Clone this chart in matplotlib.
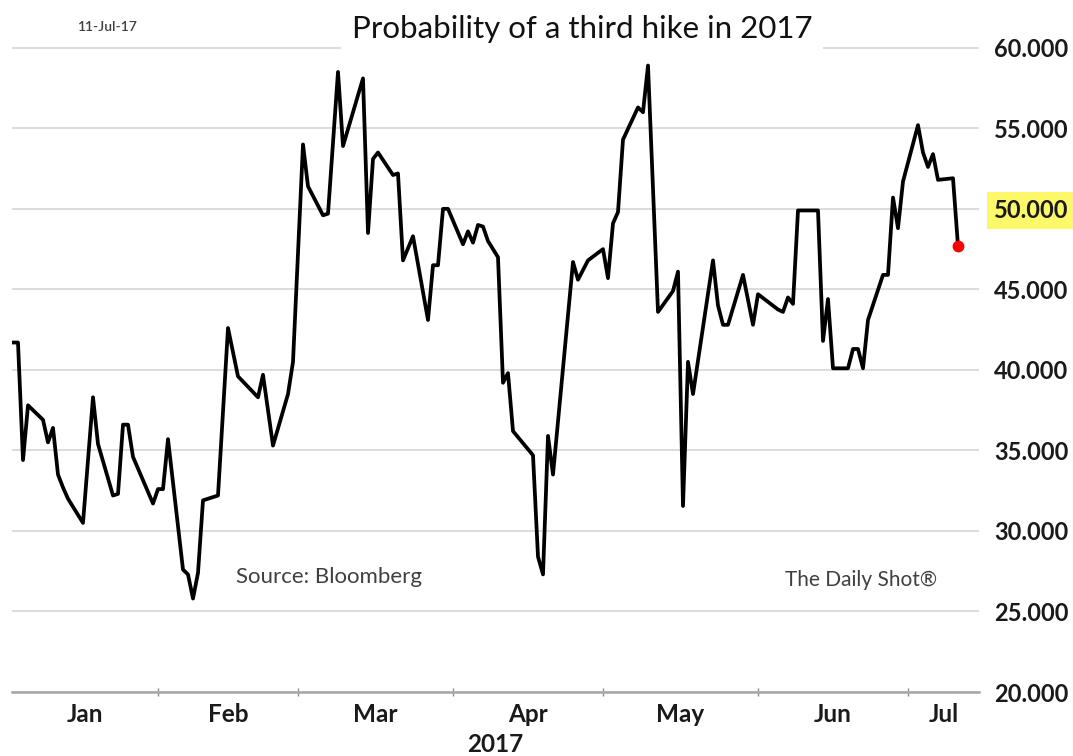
import matplotlib
matplotlib.use("Agg")
import matplotlib.pyplot as plt
import matplotlib.dates as mdates
from matplotlib.ticker import FixedLocator, NullFormatter

# probability of a third hike
dates = ["2017-01-03", "2017-01-04", "2017-01-05", "2017-01-06", "2017-01-09",
         "2017-01-10", "2017-01-11", "2017-01-12", "2017-01-13", "2017-01-14",
         "2017-01-17", "2017-01-19", "2017-01-20", "2017-01-23", "2017-01-24",
         "2017-01-25", "2017-01-26", "2017-01-27", "2017-01-31", "2017-02-01",
         "2017-02-02", "2017-02-03", "2017-02-06", "2017-02-07", "2017-02-08",
         "2017-02-09", "2017-02-10", "2017-02-13", "2017-02-15", "2017-02-17",
         "2017-02-21", "2017-02-22", "2017-02-24", "2017-02-27", "2017-02-28",
         "2017-03-02", "2017-03-03", "2017-03-06", "2017-03-07", "2017-03-09",
         "2017-03-10", "2017-03-14", "2017-03-15", "2017-03-16", "2017-03-17",
         "2017-03-20", "2017-03-21", "2017-03-22", "2017-03-24", "2017-03-27",
         "2017-03-28", "2017-03-29", "2017-03-30", "2017-03-31", "2017-04-03",
         "2017-04-04", "2017-04-05", "2017-04-06", "2017-04-07", "2017-04-08",
         "2017-04-10", "2017-04-11", "2017-04-12", "2017-04-13", "2017-04-17",
         "2017-04-18", "2017-04-19", "2017-04-20", "2017-04-21", "2017-04-25",
         "2017-04-26", "2017-04-28", "2017-05-01", "2017-05-02", "2017-05-03",
         "2017-05-04", "2017-05-05", "2017-05-08", "2017-05-09", "2017-05-10",
         "2017-05-12", "2017-05-15", "2017-05-16", "2017-05-17", "2017-05-18",
         "2017-05-19", "2017-05-23", "2017-05-24", "2017-05-25", "2017-05-26",
         "2017-05-29", "2017-05-31", "2017-06-01", "2017-06-05", "2017-06-06",
         "2017-06-07", "2017-06-08", "2017-06-09", "2017-06-13", "2017-06-14",
         "2017-06-15", "2017-06-16", "2017-06-19", "2017-06-20", "2017-06-21",
         "2017-06-22", "2017-06-23", "2017-06-26", "2017-06-27", "2017-06-28",
         "2017-06-29", "2017-06-30", "2017-07-03", "2017-07-04", "2017-07-05",
         "2017-07-06", "2017-07-07", "2017-07-10", "2017-07-11"]
prob = [41.7, 41.7, 34.4, 37.8, 36.9,
        35.5, 36.4, 33.5, 32.7, 32.0,
        30.5, 38.3, 35.4, 32.2, 32.3,
        36.6, 36.6, 34.6, 31.7, 32.6,
        32.6, 35.7, 27.6, 27.3, 25.8,
        27.4, 31.9, 32.2, 42.6, 39.6,
        38.3, 39.7, 35.3, 38.5, 40.5,
        54.0, 51.4, 49.6, 49.7, 58.5,
        53.9, 58.1, 48.5, 53.1, 53.5,
        52.1, 52.2, 46.8, 48.3, 43.1,
        46.5, 46.5, 50.0, 50.0, 47.8,
        48.6, 47.9, 49.0, 48.9, 48.0,
        47.0, 39.2, 39.8, 36.2, 34.7,
        28.4, 27.3, 35.9, 33.5, 46.7,
        45.6, 46.8, 47.5, 45.7, 49.1,
        49.8, 54.3, 56.3, 56.0, 58.9,
        43.6, 44.9, 46.1, 31.55, 40.5,
        38.5, 46.8, 44.0, 42.8, 42.8,
        45.9, 42.8, 44.7, 43.75, 43.6,
        44.5, 44.1, 49.9, 49.9, 41.8,
        44.4, 40.1, 40.1, 41.3, 41.3,
        40.1, 43.1, 45.9, 45.9, 50.7,
        48.8, 51.7, 55.2, 53.5, 52.6,
        53.4, 51.8, 51.9, 47.7]

months = ["Jan", "Feb", "Mar", "Apr", "May", "Jun", "Jul"]
month_starts = ["2017-01-01", "2017-02-01", "2017-03-01", "2017-04-01",
                "2017-05-01", "2017-06-01", "2017-07-01", "2017-08-01"]
yticks = [20, 25, 30, 35, 40, 45, 50, 55, 60]

plt.rcParams['font.family'] = ['Lato', 'DejaVu Sans']

W, H = 1073, 756
fig = plt.figure(figsize=(W / 100, H / 100), dpi=100)
ax = fig.add_axes([12 / W, 64 / H, 967 / W, 645 / H])

x = mdates.datestr2num(dates)
ax.plot(x, prob, color="black", lw=2.7, zorder=3)
ax.plot(x[-1], prob[-1], "o", color="#ff0000", ms=7.5, zorder=4)

jan1 = mdates.datestr2num("2017-01-01")
x0, x1 = jan1 + 1.8, jan1 + 195.2
ax.set_xlim(x0, x1)
ax.set_ylim(20, 60.05)

# y axis on the right, light grid
ax.yaxis.tick_right()
ax.set_yticks(yticks)
ax.set_yticklabels(["{:.3f}".format(v) for v in yticks])
ax.tick_params(axis="y", length=0, pad=11, labelsize=17, labelcolor="#1a1a1a")
for lab in ax.get_yticklabels():
    lab.set_fontweight("bold")
ax.grid(axis="y", color="#d9d9d9", lw=1.3)
ax.set_axisbelow(True)

# highlight the 50.000 label
lab50 = ax.get_yticklabels()[yticks.index(50)]
lab50.set_bbox(dict(facecolor="#fbf96a", edgecolor="none",
                    boxstyle="square,pad=0.3"))

# month ticks at boundaries, labels centred on visible part of month
ms = mdates.datestr2num(month_starts)
ax.xaxis.set_major_locator(FixedLocator(ms[1:-1]))
ax.xaxis.set_major_formatter(NullFormatter())
centres = [(max(a, x0) + min(b, x1)) / 2 for a, b in zip(ms[:-1], ms[1:])]
ax.xaxis.set_minor_locator(FixedLocator(centres))
ax.set_xticklabels(months, minor=True)
ax.tick_params(axis="x", which="major", direction="inout", length=6,
               width=1, color="#8c8c8c")
ax.tick_params(axis="x", which="minor", length=0, pad=8, labelsize=17.5,
               labelcolor="#1a1a1a")
for lab in ax.get_xticklabels(minor=True):
    lab.set_fontweight("bold")

for s in ["left", "right", "top"]:
    ax.spines[s].set_visible(False)
ax.spines["bottom"].set_color("#a6a6a6")
ax.spines["bottom"].set_linewidth(1.8)

fig.text(582 / W, 1 - 29 / H, "Probability of a third hike in 2017",
         ha="center", va="center", fontsize=22.5, color="#111111",
         bbox=dict(facecolor="white", edgecolor="none", boxstyle="square,pad=0.35"))
fig.text(107 / W, 1 - 27 / H, "11-Jul-17", ha="center", va="center",
         fontsize=10, fontweight="semibold", color="#404040")
fig.text(236 / W, 1 - 577 / H, "Source: Bloomberg", ha="left", va="center",
         fontsize=16, color="#404040")
fig.text(785 / W, 1 - 580 / H, "The Daily Shot\u00ae", ha="left", va="center",
         fontsize=15, color="#404040")
fig.text(495 / W, 1 - 744 / H, "2017", ha="center", va="center",
         fontsize=17.5, fontweight="bold", color="#1a1a1a")

fig.savefig("out.png", dpi=100, facecolor="white")
